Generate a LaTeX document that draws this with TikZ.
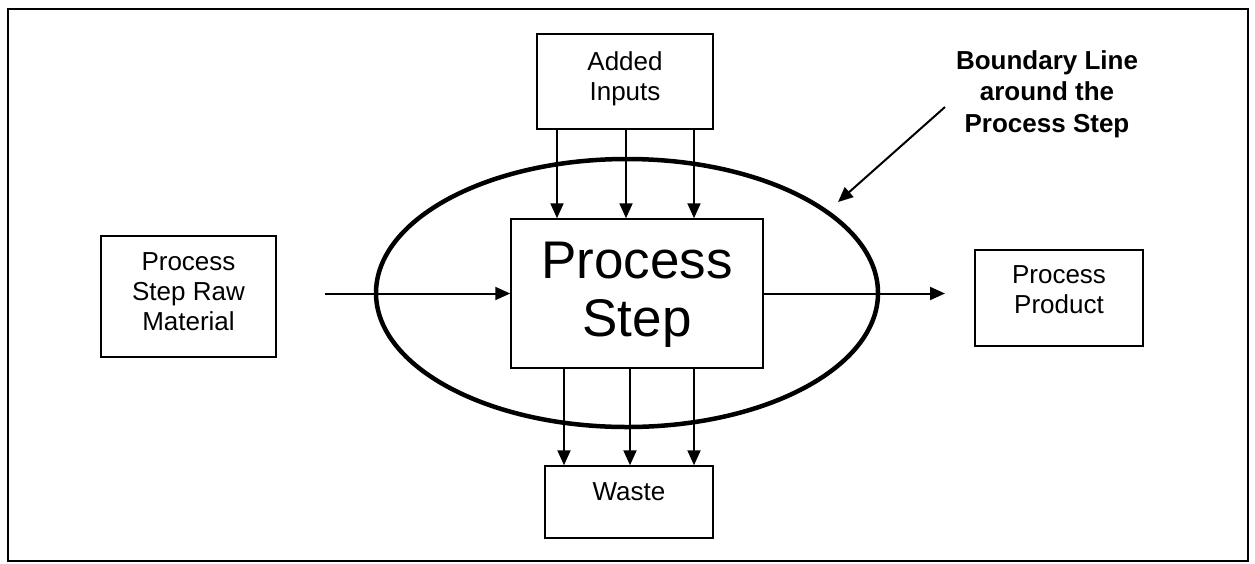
\documentclass[tikz,border=0pt]{standalone}
\usepackage{fontspec}
\setmainfont{Liberation Sans}
\usetikzlibrary{arrows.meta}
\begin{document}
\begin{tikzpicture}[x=1pt,y=-1pt,
  box/.style={draw,line width=1.5pt,fill=white,inner sep=0pt},
  txt/.style={font=\fontsize{26}{30}\selectfont,align=center,inner sep=0pt,anchor=north},
  flow/.style={line width=2pt,-{Triangle[length=15pt,width=13pt]}},
]
\useasboundingbox (0,0) rectangle (1255,563);
% outer frame
\draw[line width=2pt] (8,9) rectangle (1248,561);

% boundary around the process step
\draw[line width=4.5pt] (627,293) ellipse [x radius=251pt, y radius=134pt];

% boxes
\node[box,minimum width=176pt,minimum height=95pt]  (inputs)  at (625,81.5) {};
\node[box,minimum width=175pt,minimum height=121pt] (raw)     at (188.5,296.5) {};
\node[box,minimum width=252pt,minimum height=149pt] (pstep)   at (637,293.5) {};
\node[box,minimum width=168pt,minimum height=96pt]  (product) at (1059,298) {};
\node[box,minimum width=168pt,minimum height=72pt]  (waste)   at (629,502) {};

% box texts
\node[txt] (inputs-t)  at ([yshift=-18pt]inputs.north)  {Added\\Inputs};
\node[txt] (raw-t)     at ([yshift=-17pt]raw.north)     {Process\\Step Raw\\Material};
\node[txt,font=\fontsize{53}{58}\selectfont] (pstep-t) at ([yshift=-24pt]pstep.north) {Process\\Step};
\node[txt] (product-t) at ([yshift=-16pt]product.north) {Process\\Product};
\node[txt] (waste-t)   at ([yshift=-17pt]waste.north)   {Waste};

% note on the boundary
\node[txt,font=\fontsize{26}{31.5}\selectfont\bfseries] (note) at (1047,50) {Boundary Line\\around the\\Process Step};

% free arrow ends
\coordinate (rawout)   at (325,293.5);
\coordinate (prodin)   at (945,293.5);
\coordinate (notefrom) at (945,107);
\coordinate (noteto)   at (838,202);

% flows
\foreach \dx in {-68,1,69}
  \draw[flow] ([xshift=\dx pt]inputs.south) -- ([xshift=\dx pt]inputs.south |- pstep.north);
\foreach \dx in {-73,-7,57}
  \draw[flow] ([xshift=\dx pt]pstep.south) -- ([xshift=\dx pt]pstep.south |- waste.north);
\draw[flow] (rawout) -- (pstep.west);
\draw[flow] (pstep.east) -- (prodin);
\draw[flow] (notefrom) -- (noteto);
\end{tikzpicture}
\end{document}
